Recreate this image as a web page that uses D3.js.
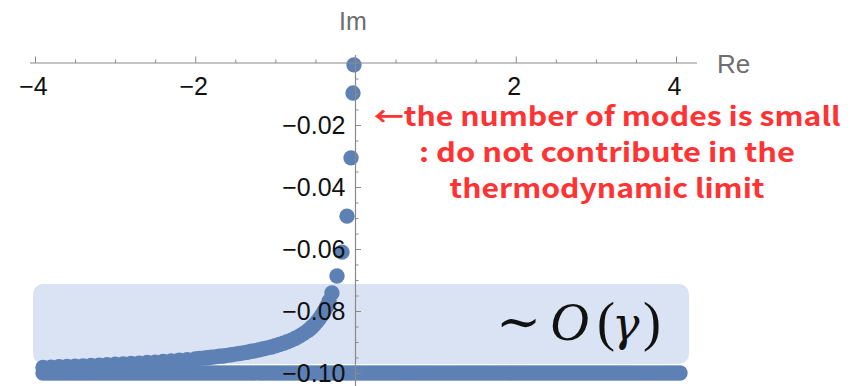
<!DOCTYPE html>
<html>
<head>
<meta charset="utf-8">
<script src="https://cdn.jsdelivr.net/npm/d3@7"></script>
<style>
  body { margin: 0; background: #fff; }
</style>
</head>
<body>
<div id="chart"></div>
<script>
// Modes near the imaginary axis, then the branch bending toward Im = -0.1
const curveRe = [-0.019, -0.031, -0.056, -0.106, -0.169, -0.231, -0.294,
  -0.33, -0.36, -0.39, -0.42, -0.45, -0.48, -0.51, -0.54, -0.57, -0.60,
  -0.65, -0.70, -0.75, -0.80, -0.85, -0.90, -0.95, -1.00, -1.05, -1.10,
  -1.15, -1.20, -1.25, -1.30, -1.35, -1.40, -1.45, -1.50, -1.55, -1.60,
  -1.65, -1.70, -1.75, -1.80, -1.85, -1.90, -1.95, -2.00, -2.1, -2.2,
  -2.3, -2.4, -2.5, -2.6, -2.7, -2.8, -2.9, -3.0, -3.1, -3.2, -3.3, -3.4,
  -3.5, -3.6, -3.7, -3.8, -3.9]
const curveIm = [-0.0006, -0.0097, -0.0306, -0.0494, -0.0610, -0.0687, -0.0742,
  -0.0768, -0.0786, -0.0800, -0.0813, -0.0824, -0.0834, -0.0843, -0.0851, -0.0858, -0.0864,
  -0.0873, -0.0881, -0.0888, -0.0894, -0.0899, -0.0904, -0.0908, -0.0912, -0.0916, -0.0919,
  -0.0922, -0.0925, -0.0928, -0.0930, -0.0933, -0.0935, -0.0937, -0.0939, -0.0941, -0.0943,
  -0.0945, -0.0946, -0.0948, -0.0949, -0.0951, -0.0952, -0.0953, -0.0955, -0.0957, -0.0959,
  -0.0961, -0.0963, -0.0965, -0.0966, -0.0968, -0.0969, -0.0971, -0.0972, -0.0973, -0.0975,
  -0.0976, -0.0977, -0.0978, -0.0979, -0.0980, -0.0981, -0.0982]

// Dense band of modes at Im = -0.1
const bandIm = -0.1
const bandRe = [
  -3.9, -3.85, -3.8, -3.75, -3.7, -3.65, -3.6, -3.55, -3.5, -3.45, -3.4, -3.35, -3.3, -3.25, -3.2, -3.15, -3.1, -3.05, -3.0, -2.95,
  -2.9, -2.85, -2.8, -2.75, -2.7, -2.65, -2.6, -2.55, -2.5, -2.45, -2.4, -2.35, -2.3, -2.25, -2.2, -2.15, -2.1, -2.05, -2.0, -1.95,
  -1.9, -1.85, -1.8, -1.75, -1.7, -1.65, -1.6, -1.55, -1.5, -1.45, -1.4, -1.35, -1.3, -1.25, -1.2, -1.15, -1.1, -1.05, -1.0, -0.95,
  -0.9, -0.85, -0.8, -0.75, -0.7, -0.65, -0.6, -0.55, -0.5, -0.45, -0.4, -0.35, -0.3, -0.25, -0.2, -0.15, -0.1, -0.05, 0.0, 0.05,
  0.1, 0.15, 0.2, 0.25, 0.3, 0.35, 0.4, 0.45, 0.5, 0.55, 0.6, 0.65, 0.7, 0.75, 0.8, 0.85, 0.9, 0.95, 1.0, 1.05,
  1.1, 1.15, 1.2, 1.25, 1.3, 1.35, 1.4, 1.45, 1.5, 1.55, 1.6, 1.65, 1.7, 1.75, 1.8, 1.85, 1.9, 1.95, 2.0, 2.05,
  2.1, 2.15, 2.2, 2.25, 2.3, 2.35, 2.4, 2.45, 2.5, 2.55, 2.6, 2.65, 2.7, 2.75, 2.8, 2.85, 2.9, 2.95, 3.0, 3.05,
  3.1, 3.15, 3.2, 3.25, 3.3, 3.35, 3.4, 3.45, 3.5, 3.55, 3.6, 3.65, 3.7, 3.75, 3.8, 3.85, 3.9, 3.95, 4.0, 4.05]

// Ticks
const xMajor = [-4, -2, 2, 4]
const xMinor = [-3.5, -3, -2.5, -1.5, -1, -0.5, 0.5, 1, 1.5, 2.5, 3, 3.5]
const yMajor = [-0.02, -0.04, -0.06, -0.08, -0.10]
const yMinor = [-0.005, -0.01, -0.015, -0.025, -0.03, -0.035, -0.045, -0.05, -0.055,
  -0.065, -0.07, -0.075, -0.085, -0.09, -0.095]

const noteLines = ['\u2190the number of modes is small', ': do not contribute in the', 'thermodynamic limit']

const width = 856
const height = 386
const dotR = 7.7
const dotColor = '#5e81b5'
const axisColor = '#8a8a8a'
const sans = '"Liberation Sans", Arial, sans-serif'

const svg = d3.select('#chart')
  .append('svg')
    .attr('width', width)
    .attr('height', height)
    .style('font-family', sans)

const x = d3.scaleLinear().domain([-4, 4]).range([35, 676])
const y = d3.scaleLinear().domain([0, -0.1]).range([63, 373])

// Highlight box behind the O(gamma) region
svg.append('rect')
    .attr('x', 33)
    .attr('y', 284)
    .attr('width', 656)
    .attr('height', 80)
    .attr('rx', 10)
    .attr('fill', '#dae3f3')

// Points
const points = curveRe.map((re, i) => ({ re, im: curveIm[i] }))
  .concat(bandRe.map(re => ({ re, im: bandIm })))

svg.append('g')
  .selectAll('circle')
  .data(points)
  .enter()
  .append('circle')
    .attr('cx', d => x(d.re))
    .attr('cy', d => y(d.im))
    .attr('r', dotR)
    .attr('fill', dotColor)

// X axis (ticks up, labels below)
const gx = svg.append('g').attr('transform', `translate(0,${y(0)})`)
gx.append('line')
    .attr('x1', 30).attr('x2', 697)
    .attr('stroke', axisColor).attr('stroke-width', 1.2)
gx.append('g')
    .call(d3.axisBottom(x).tickValues(xMinor).tickSizeInner(-3.5).tickSizeOuter(0).tickFormat(''))
gx.append('g')
    .call(d3.axisBottom(x).tickValues(xMajor).tickSizeInner(-6.5).tickSizeOuter(0).tickPadding(14)
      .tickFormat(d3.format('d')))
gx.selectAll('.domain').remove()
gx.selectAll('.tick line').attr('stroke', axisColor)
gx.selectAll('.tick text')
    .attr('font-size', 25)
    .style('font-family', sans)
    .attr('fill', '#111')
    .attr('dx', -2)

// Y axis (ticks right, labels left)
const gy = svg.append('g').attr('transform', `translate(${x(0)},0)`)
gy.append('line')
    .attr('y1', 55).attr('y2', height)
    .attr('stroke', axisColor).attr('stroke-width', 1.2)
gy.append('g')
    .call(d3.axisLeft(y).tickValues(yMinor).tickSizeInner(-3).tickSizeOuter(0).tickFormat(''))
gy.append('g')
    .call(d3.axisLeft(y).tickValues(yMajor).tickSizeInner(-5.5).tickSizeOuter(0).tickPadding(10)
      .tickFormat(d3.format('.2f')))
gy.selectAll('.domain').remove()
gy.selectAll('.tick line').attr('stroke', axisColor)
gy.selectAll('.tick text')
    .attr('font-size', 25)
    .style('font-family', sans)
    .attr('fill', '#111')

// Axis names
svg.append('text')
    .attr('x', 353).attr('y', 30)
    .attr('text-anchor', 'middle')
    .attr('font-size', 25)
    .attr('fill', '#6e6e6e')
    .text('Im')
svg.append('text')
    .attr('x', 717).attr('y', 73)
    .attr('font-size', 26)
    .attr('fill', '#6e6e6e')
    .text('Re')

// Red note
const noteWidths = [467, 376, 315]
const note = svg.append('g')
noteLines.forEach((line, i) => {
  note.append('text')
      .attr('x', 607)
      .attr('y', 126 + i * 36)
      .attr('text-anchor', 'middle')
      .style('font-family', '"Noto Sans CJK SC", "Open Sans", sans-serif')
      .attr('font-weight', 700)
      .attr('font-size', 26)
      .attr('fill', '#ff3333')
      .attr('textLength', noteWidths[i])
      .attr('lengthAdjust', 'spacingAndGlyphs')
      .text(line)
})

// ~ O(gamma), pieces placed like the typeset formula
const og = svg.append('text')
    .attr('y', 340)
    .style('font-family', '"Liberation Serif", "DejaVu Serif", serif')
    .attr('font-size', 54)
    .attr('fill', '#111')
og.append('tspan').attr('x', 496).text('\u223c')
og.append('tspan').attr('x', 550).attr('font-style', 'italic').text('O')
og.append('tspan').attr('x', 597).text('(')
og.append('tspan').attr('x', 612).attr('font-style', 'italic')
    .style('font-family', '"DejaVu Serif", serif').attr('font-size', 46).text('\u03b3')
og.append('tspan').attr('x', 643).text(')')
</script>
</body>
</html>
